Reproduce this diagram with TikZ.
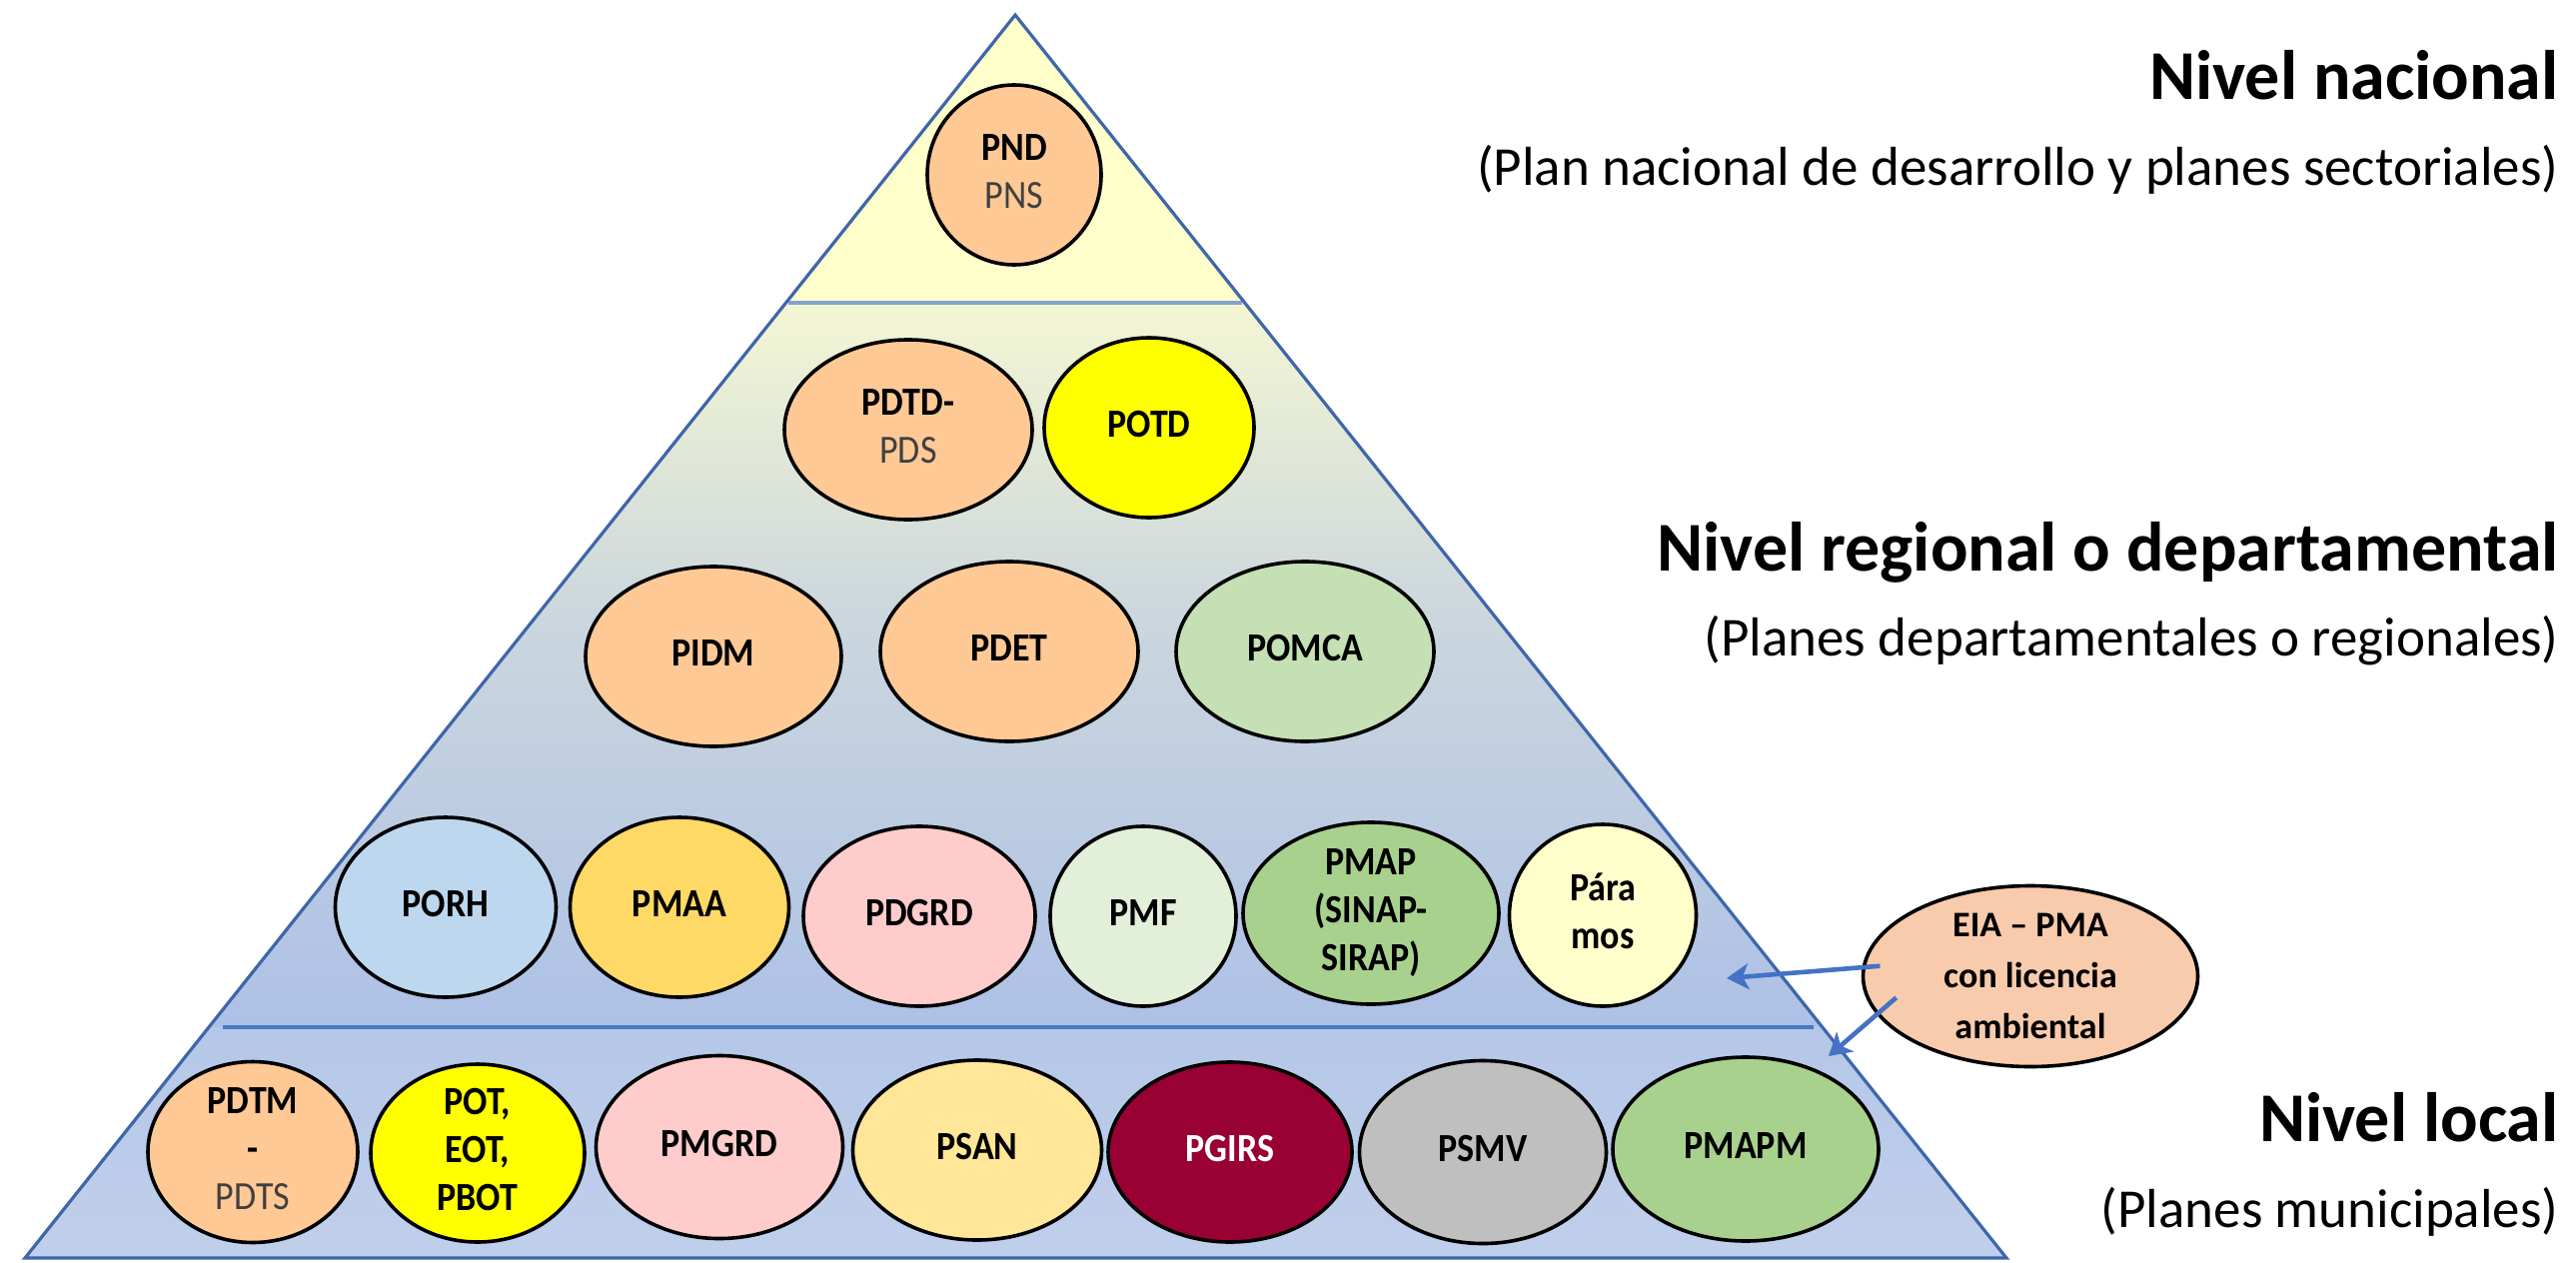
\documentclass[tikz,border=0pt]{standalone}
\usepackage{fontspec}
\setmainfont{Carlito}
\usepackage{graphicx}
\usetikzlibrary{shapes.geometric,arrows.meta}
\definecolor{peach}{HTML}{FFC996}
\definecolor{eiafill}{HTML}{F8CBAD}
\definecolor{potyellow}{HTML}{FFFF00}
\definecolor{pomcagreen}{HTML}{C5E0B4}
\definecolor{porhblue}{HTML}{BDD7EE}
\definecolor{pmaagold}{HTML}{FFD966}
\definecolor{pinkgrd}{HTML}{FFCCCC}
\definecolor{pmfgreen}{HTML}{E2F0D9}
\definecolor{pmapgreen}{HTML}{A9D18E}
\definecolor{paramoyellow}{HTML}{FFFFCC}
\definecolor{psanyellow}{HTML}{FFE699}
\definecolor{pgirsred}{HTML}{990033}
\definecolor{psmvgray}{HTML}{BFBFBF}
\definecolor{subgray}{HTML}{404040}
\definecolor{pyrline}{HTML}{3F66AA}
\definecolor{sepone}{HTML}{86A2D2}
\definecolor{septwo}{HTML}{4A78C8}
\definecolor{arrowblue}{HTML}{4472C4}
\definecolor{bandA}{HTML}{FFFFCC}
\definecolor{bandB}{HTML}{F4F6D3}
\definecolor{bandC}{HTML}{CBD6DD}
\definecolor{bandD}{HTML}{ADC1E6}
\definecolor{bandE}{HTML}{B5C7E8}
\definecolor{bandF}{HTML}{C0CFEB}
\newcommand{\et}[1]{\scalebox{0.9}[1]{\begin{tabular}{@{}c@{}}#1\end{tabular}}}
\newcommand{\subt}[1]{{\mdseries\color{subgray}#1}}
\begin{document}
\begin{tikzpicture}[x=0.5pt,y=-0.5pt,
  ell/.style={ellipse, draw=black, line width=1.8pt, inner sep=0pt},
  lbl/.style={inner sep=0pt, font=\fontsize{20}{24}\selectfont\bfseries},
  eiatxt/.style={inner sep=0pt, align=center, font=\fontsize{18}{25.5}\selectfont\bfseries},
  head/.style={anchor=base east, inner sep=0pt, font=\fontsize{35}{42}\selectfont\bfseries},
  subhead/.style={anchor=base east, inner sep=0pt, font=\fontsize{27.5}{33}\selectfont},
  arr/.style={draw=arrowblue, line width=2.3pt, -{Stealth[length=11pt,width=13pt,inset=3pt]}},
]
\fill[white] (0,0) rectangle (2578,1263);
\useasboundingbox (0,0) rectangle (2578,1263);

% pyramid background
\begin{scope}
  \clip (1016,15) -- (2008,1259) -- (25,1259) -- cycle;
  \fill[bandA] (0,0) rectangle (2578,303);
  \shade[top color=bandB, bottom color=bandC] (0,303) rectangle (2578,620);
  \shade[top color=bandC, bottom color=bandD] (0,620) rectangle (2578,1028);
  \shade[top color=bandE, bottom color=bandF] (0,1028) rectangle (2578,1263);
\end{scope}
\draw[sepone, line width=2pt] (789,303) -- (1243,303);
\draw[septwo, line width=2pt] (223,1028) -- (1815,1028);
\draw[pyrline, line width=1.6pt, line join=miter] (1016,15) -- (2008,1259) -- (25,1259) -- cycle;

% level 1
\node[ell, fill=peach, minimum width=87pt, minimum height=90pt] (pnd) at (1015,175) {};
\node[lbl] (tpnd) at (pnd) {\et{PND\\\subt{PNS}}};

% level 2
\node[ell, fill=peach, minimum width=124pt, minimum height=90pt] (pdtd) at (909,430) {};
\node[lbl] (tpdtd) at (pdtd) {\et{PDTD-\\\subt{PDS}}};
\node[ell, fill=potyellow, minimum width=105pt, minimum height=90pt] (potd) at (1150,428) {};
\node[lbl] (tpotd) at (potd) {\et{POTD}};

% level 3
\node[ell, fill=peach, minimum width=128pt, minimum height=90pt] (pidm) at (714,657) {};
\node[lbl] (tpidm) at (pidm) {\et{PIDM}};
\node[ell, fill=peach, minimum width=129pt, minimum height=90pt] (pdet) at (1010,652) {};
\node[lbl] (tpdet) at (pdet) {\et{PDET}};
\node[ell, fill=pomcagreen, minimum width=129pt, minimum height=90pt] (pomca) at (1306,652) {};
\node[lbl] (tpomca) at (pomca) {\et{POMCA}};

% level 4
\node[ell, fill=porhblue, minimum width=110.5pt, minimum height=90pt] (porh) at (446,908) {};
\node[lbl] (tporh) at (porh) {\et{PORH}};
\node[ell, fill=pmaagold, minimum width=109.5pt, minimum height=90pt] (pmaa) at (680,908) {};
\node[lbl] (tpmaa) at (pmaa) {\et{PMAA}};
\node[ell, fill=pinkgrd, minimum width=116pt, minimum height=90pt] (pdgrd) at (920,917) {};
\node[lbl] (tpdgrd) at (pdgrd) {\et{PDGRD}};
\node[ell, fill=pmfgreen, minimum width=93pt, minimum height=90pt] (pmf) at (1144,917) {};
\node[lbl] (tpmf) at (pmf) {\et{PMF}};
\node[ell, fill=pmapgreen, minimum width=128pt, minimum height=91pt] (pmap) at (1372,914) {};
\node[lbl] (tpmap) at (pmap) {\et{PMAP\\(SINAP-\\SIRAP)}};
\node[ell, fill=paramoyellow, minimum width=93.5pt, minimum height=91pt] (paramos) at (1604,916) {};
\node[lbl] (tparamos) at (paramos) {\et{Pára\\mos}};

% level 5
\node[ell, fill=peach, minimum width=105pt, minimum height=90.5pt] (pdtm) at (253,1153) {};
\node[lbl] (tpdtm) at (pdtm) {\et{PDTM\\-\\\subt{PDTS}}};
\node[ell, fill=potyellow, minimum width=107pt, minimum height=89pt] (pot) at (478,1154) {};
\node[lbl] (tpot) at (pot) {\et{POT,\\EOT,\\PBOT}};
\node[ell, fill=pinkgrd, minimum width=123.5pt, minimum height=91.5pt] (pmgrd) at (720,1148) {};
\node[lbl] (tpmgrd) at (pmgrd) {\et{PMGRD}};
\node[ell, fill=psanyellow, minimum width=124.5pt, minimum height=90pt] (psan) at (978,1151) {};
\node[lbl] (tpsan) at (psan) {\et{PSAN}};
\node[ell, fill=pgirsred, minimum width=122pt, minimum height=90pt] (pgirs) at (1231,1153) {};
\node[lbl, text=white] (tpgirs) at (pgirs) {\et{PGIRS}};
\node[ell, fill=psmvgray, minimum width=123.5pt, minimum height=91.5pt] (psmv) at (1484,1153) {};
\node[lbl] (tpsmv) at (psmv) {\et{PSMV}};
\node[ell, fill=pmapgreen, minimum width=133pt, minimum height=92pt] (pmapm) at (1747,1150) {};
\node[lbl] (tpmapm) at (pmapm) {\et{PMAPM}};

% EIA
\node[ell, fill=eiafill, minimum width=167.5pt, minimum height=90.5pt] (eia) at (2032,977) {};
\node[eiatxt] (teia) at (eia) {EIA – PMA\\con licencia\\ambiental};
\coordinate (tipone) at (1728,979);
\coordinate (tiptwo) at (1830,1057);
\draw[arr, shorten <=-9pt] (eia.177) -- (tipone);
\draw[arr, shorten <=-13pt] (eia.194) -- (tiptwo);

% headings
\node[head] (hnac) at (2561,100) {Nivel nacional};
\node[subhead] (snac) at (2561,185) {(Plan nacional de desarrollo y planes sectoriales)};
\node[head] (hreg) at (2561,571) {Nivel regional o departamental};
\node[subhead] (sreg) at (2561,656) {(Planes departamentales o regionales)};
\node[head] (hloc) at (2561,1142) {Nivel local};
\node[subhead] (sloc) at (2561,1228) {(Planes municipales)};
\end{tikzpicture}
\end{document}
